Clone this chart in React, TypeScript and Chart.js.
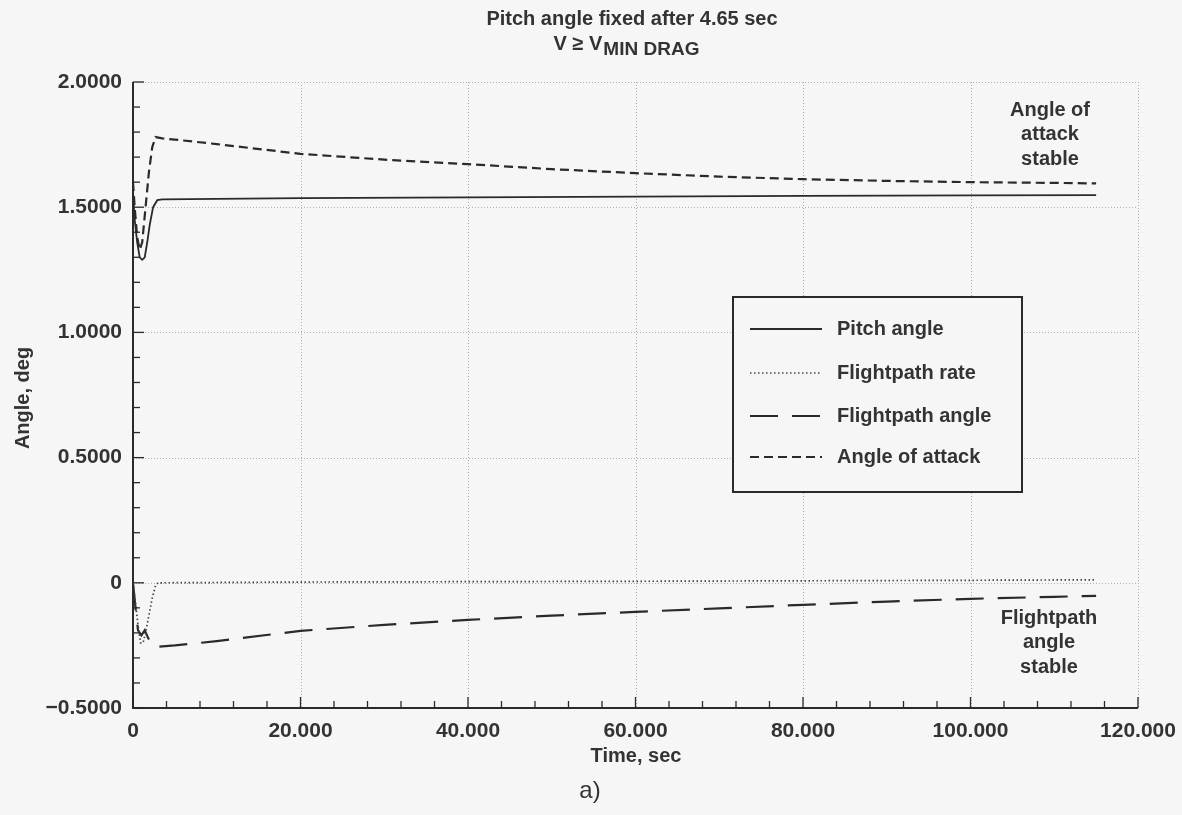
import React, { useEffect, useRef } from "react";
import { Chart, registerables } from "chart.js";

Chart.register(...registerables);

// ---------- data ----------
const pitchTime = [0, 0.2, 0.5, 0.8, 1.1, 1.4, 1.7, 2.0, 2.4, 2.9, 3.5, 10, 20, 40, 60, 80, 100, 115];
const pitchAngle = [1.56, 1.45, 1.36, 1.3, 1.29, 1.3, 1.36, 1.43, 1.5, 1.528, 1.531, 1.533, 1.536, 1.539, 1.542, 1.545, 1.547, 1.548];

const rateTime = [0, 0.3, 0.6, 0.9, 1.2, 1.5, 1.9, 2.3, 2.7, 3.0, 20, 60, 100, 115];
const flightpathRate = [0, -0.08, -0.17, -0.24, -0.24, -0.2, -0.13, -0.06, -0.01, 0.0, 0.003, 0.006, 0.01, 0.012];

const fpaTime = [0, 0.3, 0.6, 1.0, 1.4, 1.8, 2.2, 2.6, 3.0, 5, 10, 20, 30, 40, 50, 60, 70, 80, 90, 100, 110, 115];
const flightpathAngle = [0, -0.1, -0.19, -0.21, -0.19, -0.22, -0.245, -0.255, -0.255, -0.25, -0.233, -0.192, -0.168, -0.148, -0.131, -0.116, -0.102, -0.088, -0.075, -0.064, -0.056, -0.052];

const aoaTime = [0, 0.2, 0.5, 0.8, 1.1, 1.5, 1.9, 2.3, 2.7, 3.5, 5, 10, 20, 30, 40, 50, 60, 70, 80, 90, 100, 110, 115];
const angleOfAttack = [1.6, 1.5, 1.38, 1.33, 1.36, 1.5, 1.64, 1.74, 1.78, 1.775, 1.77, 1.752, 1.713, 1.69, 1.672, 1.652, 1.636, 1.622, 1.612, 1.605, 1.6, 1.597, 1.595];

const xTickValues = [0, 20, 40, 60, 80, 100, 120];
const xTickLabels = ["0", "20.000", "40.000", "60.000", "80.000", "100.000", "120.000"];
const yTickValues = [-0.5, 0, 0.5, 1.0, 1.5, 2.0];
const yTickLabels = ["\u22120.5000", "0", "0.5000", "1.0000", "1.5000", "2.0000"];

const seriesNames = ["Pitch angle", "Flightpath rate", "Flightpath angle", "Angle of attack"];
const titleLine1 = "Pitch angle fixed after 4.65 sec";
const titleLine2Main = "V \u2265 V";
const titleLine2Sub = "MIN DRAG";
const xAxisTitle = "Time, sec";
const yAxisTitle = "Angle, deg";
const caption = "a)";
const noteTop = ["Angle of", "attack", "stable"];
const noteBottom = ["Flightpath", "angle", "stable"];

const FONT = "'Liberation Sans', Arial, Helvetica, sans-serif";
const INK = "#333333";
const BG = "#f6f6f6";

function pts(t: number[], v: number[]) {
  return t.map((x, i) => ({ x, y: v[i] }));
}

const decorPlugin = {
  id: "decor",
  beforeDraw(chart: any) {
    const { ctx, width, height } = chart;
    ctx.save();
    ctx.fillStyle = BG;
    ctx.fillRect(0, 0, width, height);
    ctx.restore();
  },
  beforeDatasetsDraw(chart: any) {
    const { ctx, chartArea: a, scales } = chart;
    const xs = scales.x, ys = scales.y;
    ctx.save();
    ctx.strokeStyle = "#b0b0b0";
    ctx.lineWidth = 1;
    ctx.setLineDash([1, 2]);
    for (const v of xTickValues) {
      if (v === 0) continue;
      const px = Math.round(xs.getPixelForValue(v)) + 0.5;
      ctx.beginPath();
      ctx.moveTo(px, a.top);
      ctx.lineTo(px, a.bottom);
      ctx.stroke();
    }
    for (const v of yTickValues) {
      if (v === -0.5) continue;
      const py = Math.round(ys.getPixelForValue(v)) + 0.5;
      ctx.beginPath();
      ctx.moveTo(a.left, py);
      ctx.lineTo(a.right, py);
      ctx.stroke();
    }
    ctx.restore();
  },
  afterDatasetsDraw(chart: any) {
    const { ctx, chartArea: a, scales } = chart;
    const xs = scales.x, ys = scales.y;
    ctx.save();
    ctx.setLineDash([]);
    ctx.strokeStyle = "#2a2a2a";
    ctx.lineWidth = 2;
    // axes
    ctx.beginPath();
    ctx.moveTo(a.left, a.top);
    ctx.lineTo(a.left, a.bottom);
    ctx.lineTo(a.right, a.bottom);
    ctx.stroke();
    // ticks
    ctx.lineWidth = 1.3;
    for (let v = 0; v <= 120.001; v += 4) {
      const major = Math.abs(v % 20) < 0.01;
      const px = xs.getPixelForValue(v);
      ctx.beginPath();
      ctx.moveTo(px, a.bottom);
      ctx.lineTo(px, a.bottom - (major ? 11 : 7));
      ctx.stroke();
    }
    for (let i = 0; i <= 25; i++) {
      const v = -0.5 + i * 0.1;
      const major = i % 5 === 0;
      const py = ys.getPixelForValue(v);
      ctx.beginPath();
      ctx.moveTo(a.left, py);
      ctx.lineTo(a.left + (major ? 11 : 7), py);
      ctx.stroke();
    }

    ctx.fillStyle = INK;
    ctx.textAlign = "center";
    ctx.textBaseline = "middle";
    // title
    ctx.font = `bold 20px ${FONT}`;
    ctx.fillText(titleLine1, 632, 19);
    const wMain = ctx.measureText(titleLine2Main).width;
    ctx.font = `bold 19px ${FONT}`;
    const wSub = ctx.measureText(titleLine2Sub).width;
    const startX = 626 - (wMain + wSub) / 2;
    ctx.textAlign = "left";
    ctx.font = `bold 20px ${FONT}`;
    ctx.fillText(titleLine2Main, startX, 44);
    ctx.font = `bold 19px ${FONT}`;
    ctx.fillText(titleLine2Sub, startX + wMain + 1, 50);

    // axis titles
    ctx.textAlign = "center";
    ctx.font = `bold 20px ${FONT}`;
    ctx.fillText(xAxisTitle, 636, 756);
    ctx.save();
    ctx.translate(23, 398);
    ctx.rotate(-Math.PI / 2);
    ctx.fillText(yAxisTitle, 0, 0);
    ctx.restore();
    ctx.font = `24px ${FONT}`;
    ctx.fillText(caption, 590, 791);

    // notes
    ctx.font = `bold 20px ${FONT}`;
    noteTop.forEach((s, i) => ctx.fillText(s, 1050, 110 + i * 24.5));
    noteBottom.forEach((s, i) => ctx.fillText(s, 1049, 618 + i * 24.5));

    // legend box
    const lx = 733, ly = 297, lw = 289, lh = 195;
    ctx.fillStyle = BG;
    ctx.fillRect(lx, ly, lw, lh);
    ctx.strokeStyle = "#2a2a2a";
    ctx.lineWidth = 2;
    ctx.strokeRect(lx, ly, lw, lh);
    const rows = [329, 373, 416, 457];
    chart.data.datasets.forEach((ds: any, i: number) => {
      const y = rows[i];
      ctx.save();
      ctx.strokeStyle = ds.borderColor;
      ctx.lineWidth = ds.borderWidth;
      ctx.setLineDash(ds.borderDash || []);
      ctx.beginPath();
      ctx.moveTo(750, y);
      ctx.lineTo(822, y);
      ctx.stroke();
      ctx.restore();
      ctx.fillStyle = INK;
      ctx.textAlign = "left";
      ctx.font = `bold 20px ${FONT}`;
      ctx.fillText(ds.label, 837, y);
    });
    ctx.restore();
  },
};

export default function App() {
  const ref = useRef<HTMLCanvasElement | null>(null);
  useEffect(() => {
    if (!ref.current) return;
    const chart = new Chart(ref.current, {
      type: "line",
      data: {
        datasets: [
          {
            label: seriesNames[0],
            data: pts(pitchTime, pitchAngle),
            borderColor: "#2a2a2a",
            borderWidth: 1.8,
            borderDash: [],
          },
          {
            label: seriesNames[1],
            data: pts(rateTime, flightpathRate),
            borderColor: "#444444",
            borderWidth: 1.7,
            borderDash: [1.5, 2.5],
          },
          {
            label: seriesNames[2],
            data: pts(fpaTime, flightpathAngle),
            borderColor: "#2a2a2a",
            borderWidth: 2.2,
            borderDash: [28, 14],
          },
          {
            label: seriesNames[3],
            data: pts(aoaTime, angleOfAttack),
            borderColor: "#2a2a2a",
            borderWidth: 2.2,
            borderDash: [9, 5],
          },
        ],
      },
      options: {
        responsive: false,
        animation: false,
        layout: { padding: { left: 0, right: 44, top: 82, bottom: 0 } },
        elements: { point: { radius: 0 }, line: { tension: 0, fill: false } },
        plugins: { legend: { display: false }, tooltip: { enabled: false }, title: { display: false } },
        scales: {
          x: {
            type: "linear",
            min: 0,
            max: 120,
            afterFit: (s: any) => { s.height = 107; s.paddingLeft = 0; s.paddingRight = 0; },
            afterBuildTicks: (s: any) => { s.ticks = xTickValues.map((v) => ({ value: v })); },
            grid: { display: false, drawTicks: false },
            border: { display: false },
            ticks: {
              padding: 11,
              color: INK,
              font: { family: FONT, size: 21, weight: "bold" },
              maxRotation: 0,
              autoSkip: false,
              callback: (v: any) => { const i = xTickValues.indexOf(Number(v)); return i >= 0 ? xTickLabels[i] : ""; },
            },
          },
          y: {
            type: "linear",
            min: -0.5,
            max: 2.0,
            afterFit: (s: any) => { s.width = 133; s.paddingTop = 0; s.paddingBottom = 0; },
            afterBuildTicks: (s: any) => { s.ticks = yTickValues.map((v) => ({ value: v })); },
            grid: { display: false, drawTicks: false },
            border: { display: false },
            ticks: {
              padding: 11,
              color: INK,
              font: { family: FONT, size: 21, weight: "bold" },
              autoSkip: false,
              callback: (v: any) => {
                const i = yTickValues.findIndex((t) => Math.abs(t - Number(v)) < 1e-6);
                return i >= 0 ? yTickLabels[i] : "";
              },
            },
          },
        },
      },
      plugins: [decorPlugin],
    } as any);
    return () => chart.destroy();
  }, []);
  return (
    <div style={{ position: "fixed", left: 0, top: 0, width: 1182, height: 815, background: BG }}>
      <canvas ref={ref} width={1182} height={815} style={{ display: "block", width: 1182, height: 815 }} />
    </div>
  );
}
